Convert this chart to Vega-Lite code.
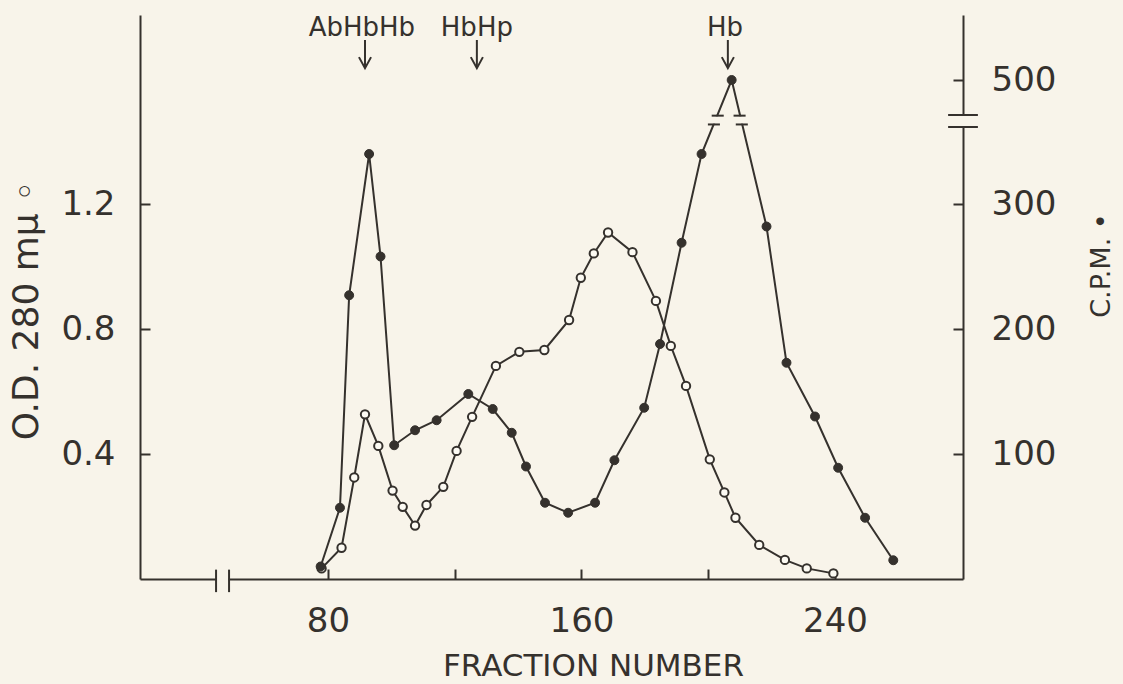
{
  "$schema": "https://vega.github.io/schema/vega-lite/v6.json",
  "width": 823,
  "height": 564,
  "autosize": {"type": "none"},
  "padding": {"left": 140, "top": 15, "right": 160, "bottom": 105},
  "background": "#f8f4ea",
  "config": {
    "view": {"stroke": null},
    "axis": {
      "domainColor": "#35312d", "domainWidth": 2,
      "tickColor": "#35312d", "tickWidth": 2, "tickSize": -10,
      "labelFont": "DejaVu Sans", "labelFontSize": 34, "labelColor": "#35312d",
      "titleFont": "DejaVu Sans", "titleColor": "#35312d", "titleFontWeight": "normal",
      "grid": false, "labelOverlap": false, "labelFlush": false
    }
  },
  "datasets": {
    "od": [
      {"fraction": 78.0, "od": 0.034}, {"fraction": 84.3, "od": 0.100}, {"fraction": 88.3, "od": 0.325},
      {"fraction": 91.7, "od": 0.527}, {"fraction": 95.9, "od": 0.426}, {"fraction": 100.4, "od": 0.283},
      {"fraction": 103.6, "od": 0.231}, {"fraction": 107.5, "od": 0.171}, {"fraction": 111.1, "od": 0.237},
      {"fraction": 116.4, "od": 0.295}, {"fraction": 120.6, "od": 0.410}, {"fraction": 125.5, "od": 0.519},
      {"fraction": 133.0, "od": 0.682}, {"fraction": 140.4, "od": 0.727}, {"fraction": 148.3, "od": 0.733},
      {"fraction": 156.1, "od": 0.829}, {"fraction": 159.8, "od": 0.964}, {"fraction": 163.9, "od": 1.042},
      {"fraction": 168.4, "od": 1.109}, {"fraction": 176.1, "od": 1.046}, {"fraction": 183.5, "od": 0.890},
      {"fraction": 188.2, "od": 0.746}, {"fraction": 193.0, "od": 0.618}, {"fraction": 200.5, "od": 0.383},
      {"fraction": 205.1, "od": 0.277}, {"fraction": 208.6, "od": 0.196}, {"fraction": 216.1, "od": 0.109},
      {"fraction": 224.2, "od": 0.061}, {"fraction": 231.1, "od": 0.034}, {"fraction": 239.5, "od": 0.018}
    ],
    "cpm": [
      {"fraction": 77.7, "cpm": 10}, {"fraction": 83.8, "cpm": 57}, {"fraction": 86.7, "cpm": 227},
      {"fraction": 93.0, "cpm": 340}, {"fraction": 96.6, "cpm": 258}, {"fraction": 100.9, "cpm": 107},
      {"fraction": 107.5, "cpm": 119}, {"fraction": 114.3, "cpm": 127}, {"fraction": 124.3, "cpm": 148},
      {"fraction": 132.0, "cpm": 136}, {"fraction": 138.0, "cpm": 117}, {"fraction": 142.5, "cpm": 90},
      {"fraction": 148.5, "cpm": 61}, {"fraction": 155.8, "cpm": 53}, {"fraction": 164.3, "cpm": 61},
      {"fraction": 170.4, "cpm": 95}, {"fraction": 179.8, "cpm": 137}, {"fraction": 184.8, "cpm": 188},
      {"fraction": 191.6, "cpm": 269}, {"fraction": 197.9, "cpm": 340}, {"fraction": 207.4, "cpm": 500},
      {"fraction": 218.4, "cpm": 282}, {"fraction": 224.7, "cpm": 173}, {"fraction": 233.7, "cpm": 130},
      {"fraction": 241.0, "cpm": 89}, {"fraction": 249.5, "cpm": 49}, {"fraction": 258.4, "cpm": 15}
    ],
    "peaks": [
      {"label": "AbHbHb", "textFraction": 90.7, "arrowFraction": 91.7},
      {"label": "HbHp", "textFraction": 127.0, "arrowFraction": 127.0},
      {"label": "Hb", "textFraction": 205.3, "arrowFraction": 206.2}
    ],
    "xbreak": [{"fraction": 44.7}, {"fraction": 48.8}],
    "ybreak": [
      {"x1": 275.7, "x2": 285.1, "cpm": 361.6},
      {"x1": 275.7, "x2": 285.1, "cpm": 472}
    ],
    "ybreakgap": [{"x1": 279.7, "x2": 281.1, "c1": 363, "c2": 470.5}],
    "curvebreakgap": [
      {"x1": 200.3, "x2": 204.5, "c1": 392, "c2": 460},
      {"x1": 208.2, "x2": 212.4, "c1": 392, "c2": 460}
    ],
    "curvebreak": [
      {"x1": 201.1, "x2": 204.9, "cpm": 466},
      {"x1": 199.9, "x2": 203.7, "cpm": 385},
      {"x1": 208.0, "x2": 211.8, "cpm": 466},
      {"x1": 208.7, "x2": 212.5, "cpm": 385}
    ]
  },
  "layer": [
    {
      "layer": [
        {
          "data": {"name": "od"},
          "mark": {"type": "line", "stroke": "#35312d", "strokeWidth": 2},
          "encoding": {
            "x": {
              "field": "fraction", "type": "quantitative",
              "scale": {"domain": [20.7, 280.4], "nice": false, "zero": false},
              "axis": {
                "values": [80, 120, 160, 200, 240],
                "labelExpr": "datum.value % 80 == 0 ? datum.label : ''",
                "labelPadding": 35,
                "title": "FRACTION NUMBER", "titleFontSize": 31,
                "titleX": 453, "titleY": 87, "titleBaseline": "middle", "titleAlign": "center"
              }
            },
            "y": {
              "field": "od", "type": "quantitative",
              "scale": {"domain": [0, 1.805], "nice": false, "zero": false},
              "axis": {
                "orient": "left",
                "values": [0.4, 0.8, 1.2], "format": ".1f",
                "labelPadding": 35,
                "title": "O.D. 280 mμ ◦", "titleFontSize": 36, "titleAngle": 270,
                "titleX": -114, "titleY": 295, "titleBaseline": "middle", "titleAlign": "center"
              }
            }
          }
        },
        {
          "data": {"name": "xbreak"},
          "mark": {"type": "rect", "fill": "#f8f4ea", "stroke": null},
          "encoding": {
            "x": {"datum": 44.9, "type": "quantitative"},
            "x2": {"datum": 48.6},
            "y": {"datum": -0.012, "type": "quantitative"},
            "y2": {"datum": 0.012}
          }
        },
        {
          "data": {"name": "xbreak"},
          "mark": {"type": "rule", "stroke": "#35312d", "strokeWidth": 2},
          "encoding": {
            "x": {"field": "fraction", "type": "quantitative"},
            "y": {"datum": -0.042, "type": "quantitative"},
            "y2": {"datum": 0.03}
          }
        },
        {
          "data": {"name": "peaks"},
          "mark": {"type": "text", "font": "DejaVu Sans", "fontSize": 26, "fill": "#35312d", "align": "center", "baseline": "middle"},
          "encoding": {
            "x": {"field": "textFraction", "type": "quantitative"},
            "y": {"datum": 1.763, "type": "quantitative"},
            "text": {"field": "label"}
          }
        },
        {
          "data": {"name": "peaks"},
          "mark": {"type": "rule", "stroke": "#35312d", "strokeWidth": 2},
          "encoding": {
            "x": {"field": "arrowFraction", "type": "quantitative"},
            "y": {"datum": 1.725, "type": "quantitative"},
            "y2": {"datum": 1.638}
          }
        },
        {
          "data": {"name": "peaks"},
          "mark": {"type": "point", "shape": "M-0.55,-1L0,0L0.55,-1", "size": 484, "filled": false, "stroke": "#35312d", "strokeWidth": 2, "opacity": 1},
          "encoding": {
            "x": {"field": "arrowFraction", "type": "quantitative"},
            "y": {"datum": 1.635, "type": "quantitative"}
          }
        },
        {
          "data": {"name": "od"},
          "mark": {"type": "point", "shape": "circle", "size": 70, "filled": true, "fill": "#fcfaf3", "stroke": "#35312d", "strokeWidth": 2, "opacity": 1},
          "encoding": {
            "x": {"field": "fraction", "type": "quantitative"},
            "y": {"field": "od", "type": "quantitative"}
          }
        }
      ]
    },
    {
      "layer": [
        {
          "data": {"name": "cpm"},
          "mark": {"type": "line", "stroke": "#35312d", "strokeWidth": 2},
          "encoding": {
            "x": {"field": "fraction", "type": "quantitative"},
            "y": {
              "field": "cpm", "type": "quantitative",
              "scale": {"domain": [0, 361.6, 472, 552], "range": [564, 112, 100, 0], "nice": false, "zero": false},
              "axis": {
                "orient": "right",
                "values": [100, 200, 300, 500],
                "labelPadding": 38,
                "title": "C.P.M. •", "titleFontSize": 27, "titleAngle": 270,
                "titleX": 138, "titleY": 250, "titleBaseline": "middle", "titleAlign": "center"
              }
            }
          }
        },
        {
          "data": {"name": "ybreakgap"},
          "mark": {"type": "rect", "fill": "#f8f4ea", "stroke": null},
          "encoding": {
            "x": {"field": "x1", "type": "quantitative"},
            "x2": {"field": "x2"},
            "y": {"field": "c1", "type": "quantitative"},
            "y2": {"field": "c2"}
          }
        },
        {
          "data": {"name": "curvebreakgap"},
          "mark": {"type": "rect", "fill": "#f8f4ea", "stroke": null},
          "encoding": {
            "x": {"field": "x1", "type": "quantitative"},
            "x2": {"field": "x2"},
            "y": {"field": "c1", "type": "quantitative"},
            "y2": {"field": "c2"}
          }
        },
        {
          "data": {"name": "ybreak"},
          "mark": {"type": "rule", "stroke": "#35312d", "strokeWidth": 2},
          "encoding": {
            "x": {"field": "x1", "type": "quantitative"},
            "x2": {"field": "x2"},
            "y": {"field": "cpm", "type": "quantitative"}
          }
        },
        {
          "data": {"name": "curvebreak"},
          "mark": {"type": "rule", "stroke": "#35312d", "strokeWidth": 2},
          "encoding": {
            "x": {"field": "x1", "type": "quantitative"},
            "x2": {"field": "x2"},
            "y": {"field": "cpm", "type": "quantitative"}
          }
        },
        {
          "data": {"name": "cpm"},
          "mark": {"type": "point", "shape": "circle", "size": 80, "filled": true, "fill": "#35312d", "stroke": "#35312d", "strokeWidth": 1, "opacity": 1},
          "encoding": {
            "x": {"field": "fraction", "type": "quantitative"},
            "y": {"field": "cpm", "type": "quantitative"}
          }
        }
      ]
    }
  ],
  "resolve": {"scale": {"y": "independent"}}
}
